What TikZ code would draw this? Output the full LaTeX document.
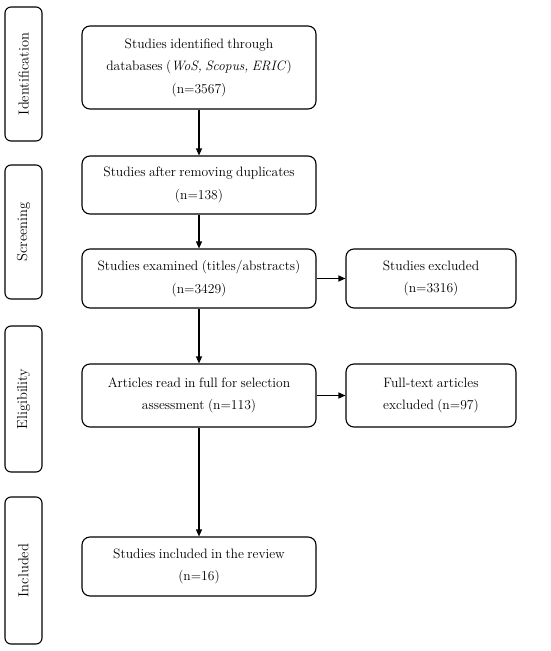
\documentclass[tikz,border=0pt]{standalone}
\usetikzlibrary{arrows.meta}
\newcommand{\boxfont}{\fontsize{13.6}{22.5}\selectfont\spaceskip=0.25em plus 0.1em\relax}
\begin{document}
\begin{tikzpicture}[x=1pt,y=-1pt,
  box/.style={draw, line width=1.1pt, rounded corners=8pt, align=center, inner sep=0pt,
    font=\boxfont},
  mainbox/.style={box, minimum width=234pt},
  sidebox/.style={box, minimum width=170pt},
  phase/.style={draw, line width=1.1pt, rounded corners=6pt, inner sep=0pt,
    minimum width=37pt},
  phasetext/.style={rotate=90, inner sep=0pt, font=\fontsize{14.5}{16}\selectfont},
  arr/.style={-{Triangle[length=7pt,width=6pt]}, line width=1.1pt}]
\useasboundingbox (0,0) rectangle (550,651);
% phases
\node[phase, minimum height=134pt] (pid) at (23.5,74) {};
\node[phasetext] (tid) at (pid.center) {Identification};
\node[phase, minimum height=134pt] (psc) at (23.5,232) {};
\node[phasetext] (tsc) at (psc.center) {Screening};
\node[phase, minimum height=146pt] (pel) at (23.5,399) {};
\node[phasetext] (tel) at (pel.center) {Eligibility};
\node[phase, minimum height=147pt] (pin) at (23.5,570.5) {};
\node[phasetext] (tin) at (pin.center) {Included};
% main boxes
\node[mainbox, minimum height=83pt] (b1) at (199,67.5) {Studies identified through\\databases (\textit{WoS, Scopus, ERIC})\\(n=3567)};
\node[mainbox, minimum height=58pt] (b2) at (199,185) {Studies after removing duplicates\\(n=138)};
\node[mainbox, minimum height=59pt] (b3) at (199,278.5) {Studies examined (titles/abstracts)\\(n=3429)};
\node[mainbox, minimum height=63pt] (b4) at (199,395.5) {Articles read in full for selection\\assessment (n=113)};
\node[mainbox, minimum height=59pt] (b5) at (199,566.5) {Studies included in the review\\(n=16)};
\node[sidebox, minimum height=59pt] (r1) at (431,278.5) {Studies excluded\\(n=3316)};
\node[sidebox, minimum height=63pt] (r2) at (431,395.5) {Full-text articles\\excluded (n=97)};
% arrows
\draw[arr] (b1) -- (b2);
\draw[arr] (b2) -- (b3);
\draw[arr] (b3) -- (b4);
\draw[arr] (b4) -- (b5);
\draw[arr] (b3) -- (r1);
\draw[arr] (b4) -- (r2);
\end{tikzpicture}
\end{document}
